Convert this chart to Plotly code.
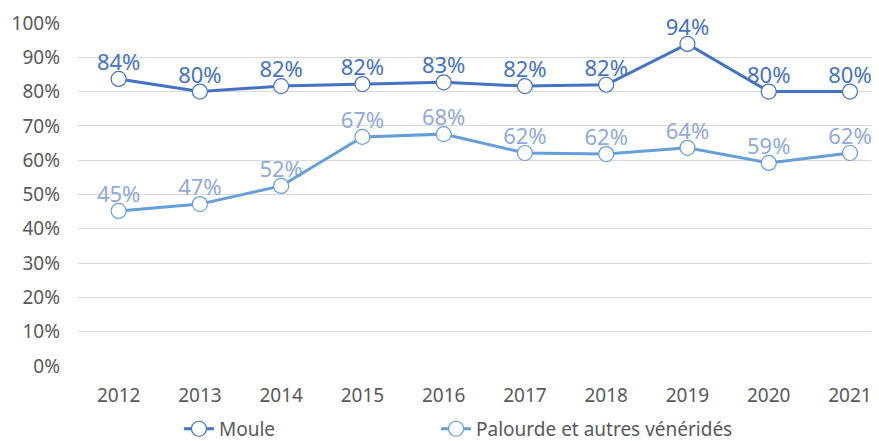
import plotly.graph_objects as go

years = ["2012", "2013", "2014", "2015", "2016", "2017", "2018", "2019", "2020", "2021"]
moule = [0.837, 0.800, 0.816, 0.822, 0.827, 0.816, 0.820, 0.939, 0.800, 0.800]
palourde = [0.452, 0.472, 0.525, 0.668, 0.676, 0.621, 0.618, 0.636, 0.592, 0.621]
y_ticks = [0, 0.1, 0.2, 0.3, 0.4, 0.5, 0.6, 0.7, 0.8, 0.9, 1.0]

FONT = "Noto Sans"
C_MOULE = "#4472C4"
C_PAL = "#659ED9"
C_PAL_TXT = "#8FAADC"

fig = go.Figure()
# data labels (drawn first so markers sit on top)
for vals, col in [(moule, C_MOULE), (palourde, C_PAL_TXT)]:
    fig.add_trace(go.Scatter(
        x=years, y=vals, mode="markers+text", showlegend=False, hoverinfo="skip",
        marker=dict(size=4, opacity=0),
        text=[f"{round(v*100)}%" for v in vals], textposition="top center",
        textfont=dict(family=FONT, size=22, color=col),
        cliponaxis=False,
    ))

fig.add_trace(go.Scatter(
    x=years, y=moule, name="Moule", mode="lines+markers", legend="legend",
    line=dict(color=C_MOULE, width=3),
    marker=dict(size=15, color="white", line=dict(color=C_MOULE, width=1.2)),
    cliponaxis=False,
))
fig.add_trace(go.Scatter(
    x=years, y=palourde, name="Palourde et autres vénéridés", mode="lines+markers",
    legend="legend2",
    line=dict(color=C_PAL, width=3),
    marker=dict(size=15, color="white", line=dict(color=C_PAL, width=1.2)),
    cliponaxis=False,
))

legend_common = dict(orientation="h", xanchor="left", y=-0.128, yanchor="top",
                     font=dict(family=FONT, size=19, color="#595959"),
                     itemwidth=30, bgcolor="rgba(0,0,0,0)")

fig.update_layout(
    width=871, height=433,
    margin=dict(l=70, r=0, t=15, b=75, autoexpand=False),
    plot_bgcolor="white", paper_bgcolor="white",
    font=dict(family=FONT, color="#595959"),
    showlegend=True,
    legend=dict(x=0.126, **legend_common),
    legend2=dict(x=0.447, **legend_common),
    xaxis=dict(type="category", range=[-0.5, 9.357], showgrid=False, showline=False,
               ticks="", tickfont=dict(size=19, color="#595959")),
    yaxis=dict(range=[0, 1.0], tickvals=y_ticks, tickformat=".0%",
               showgrid=True, gridcolor="#D9D9D9", gridwidth=1, zeroline=False,
               showline=False, ticks="", ticklen=0,
               tickfont=dict(size=19, color="#595959")),
)
fig.update_yaxes(ticklabelstandoff=17)
fig.update_xaxes(ticklabelstandoff=16)
fig.write_html("out.html")
